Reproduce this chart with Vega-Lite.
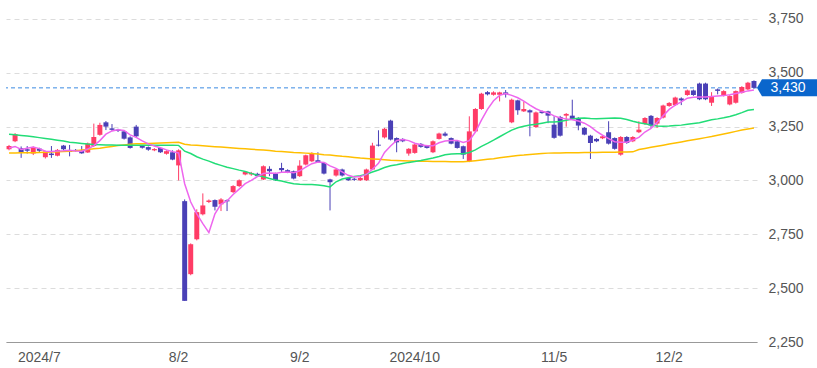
{
  "$schema": "https://vega.github.io/schema/vega-lite/v6.json",
  "width": 751,
  "height": 342,
  "autosize": "none",
  "padding": {"left": 6, "top": 0, "right": 60, "bottom": 26},
  "config": {"view": {"stroke": null}, "font": "Liberation Sans"},
  "datasets": {
    "candles": [
      {"date":"2024-06-24","o":3145,"h":3165,"l":3140,"c":3160,"ma5":3151,"ma25":3215,"ma75":3128},
      {"date":"2024-06-25","o":3182,"h":3220,"l":3178,"c":3215,"ma5":3158,"ma25":3212,"ma75":3128},
      {"date":"2024-06-26","o":3150,"h":3158,"l":3105,"c":3130,"ma5":3144,"ma25":3209,"ma75":3129},
      {"date":"2024-06-27","o":3145,"h":3160,"l":3125,"c":3138,"ma5":3150,"ma25":3206,"ma75":3129},
      {"date":"2024-06-28","o":3125,"h":3158,"l":3118,"c":3152,"ma5":3155,"ma25":3203,"ma75":3129},
      {"date":"2024-07-01","o":3148,"h":3152,"l":3132,"c":3138,"ma5":3148,"ma25":3199,"ma75":3130},
      {"date":"2024-07-02","o":3108,"h":3138,"l":3102,"c":3135,"ma5":3136,"ma25":3195,"ma75":3131},
      {"date":"2024-07-03","o":3125,"h":3160,"l":3105,"c":3118,"ma5":3134,"ma25":3191,"ma75":3132},
      {"date":"2024-07-04","o":3115,"h":3146,"l":3112,"c":3142,"ma5":3137,"ma25":3187,"ma75":3133},
      {"date":"2024-07-05","o":3162,"h":3165,"l":3140,"c":3145,"ma5":3138,"ma25":3183,"ma75":3134},
      {"date":"2024-07-08","o":3138,"h":3165,"l":3112,"c":3132,"ma5":3140,"ma25":3178,"ma75":3136},
      {"date":"2024-07-09","o":3142,"h":3146,"l":3134,"c":3138,"ma5":3137,"ma25":3175,"ma75":3138},
      {"date":"2024-07-10","o":3138,"h":3160,"l":3124,"c":3126,"ma5":3136,"ma25":3172,"ma75":3141},
      {"date":"2024-07-11","o":3130,"h":3176,"l":3128,"c":3172,"ma5":3146,"ma25":3169,"ma75":3144},
      {"date":"2024-07-12","o":3160,"h":3264,"l":3155,"c":3202,"ma5":3162,"ma25":3167,"ma75":3147},
      {"date":"2024-07-16","o":3212,"h":3268,"l":3208,"c":3258,"ma5":3185,"ma25":3166,"ma75":3150},
      {"date":"2024-07-17","o":3270,"h":3276,"l":3234,"c":3250,"ma5":3215,"ma25":3165,"ma75":3154},
      {"date":"2024-07-18","o":3242,"h":3262,"l":3230,"c":3235,"ma5":3230,"ma25":3165,"ma75":3158},
      {"date":"2024-07-19","o":3236,"h":3240,"l":3225,"c":3230,"ma5":3236,"ma25":3164,"ma75":3162},
      {"date":"2024-07-22","o":3228,"h":3232,"l":3190,"c":3194,"ma5":3232,"ma25":3164,"ma75":3165},
      {"date":"2024-07-23","o":3200,"h":3205,"l":3148,"c":3151,"ma5":3212,"ma25":3164,"ma75":3168},
      {"date":"2024-07-24","o":3250,"h":3258,"l":3200,"c":3205,"ma5":3200,"ma25":3164,"ma75":3170},
      {"date":"2024-07-25","o":3160,"h":3165,"l":3148,"c":3152,"ma5":3184,"ma25":3164,"ma75":3171},
      {"date":"2024-07-26","o":3155,"h":3158,"l":3138,"c":3143,"ma5":3170,"ma25":3164,"ma75":3172},
      {"date":"2024-07-29","o":3140,"h":3150,"l":3136,"c":3146,"ma5":3160,"ma25":3164,"ma75":3173},
      {"date":"2024-07-30","o":3151,"h":3155,"l":3128,"c":3131,"ma5":3152,"ma25":3164,"ma75":3174},
      {"date":"2024-07-31","o":3124,"h":3140,"l":3120,"c":3136,"ma5":3142,"ma25":3164,"ma75":3175},
      {"date":"2024-08-01","o":3131,"h":3140,"l":3094,"c":3097,"ma5":3134,"ma25":3164,"ma75":3176},
      {"date":"2024-08-02","o":3070,"h":3145,"l":3000,"c":3140,"ma5":3128,"ma25":3163,"ma75":3177},
      {"date":"2024-08-05","o":2904,"h":2912,"l":2441,"c":2441,"ma5":2985,"ma25":3136,"ma75":3168},
      {"date":"2024-08-06","o":2565,"h":2708,"l":2560,"c":2704,"ma5":2900,"ma25":3125,"ma75":3165},
      {"date":"2024-08-07","o":2727,"h":2866,"l":2722,"c":2853,"ma5":2845,"ma25":3110,"ma75":3163},
      {"date":"2024-08-08","o":2843,"h":2940,"l":2838,"c":2884,"ma5":2800,"ma25":3099,"ma75":3161},
      {"date":"2024-08-09","o":2900,"h":2912,"l":2895,"c":2907,"ma5":2758,"ma25":3090,"ma75":3159},
      {"date":"2024-08-13","o":2909,"h":2912,"l":2861,"c":2878,"ma5":2845,"ma25":3079,"ma75":3157},
      {"date":"2024-08-14","o":2889,"h":2918,"l":2858,"c":2912,"ma5":2890,"ma25":3070,"ma75":3155},
      {"date":"2024-08-15","o":2908,"h":2912,"l":2858,"c":2903,"ma5":2905,"ma25":3061,"ma75":3153},
      {"date":"2024-08-16","o":2946,"h":2978,"l":2942,"c":2974,"ma5":2935,"ma25":3055,"ma75":3151},
      {"date":"2024-08-19","o":2974,"h":3005,"l":2970,"c":3001,"ma5":2960,"ma25":3048,"ma75":3149},
      {"date":"2024-08-20","o":3028,"h":3044,"l":3024,"c":3040,"ma5":2985,"ma25":3042,"ma75":3147},
      {"date":"2024-08-21","o":3028,"h":3040,"l":3022,"c":3035,"ma5":3000,"ma25":3033,"ma75":3145},
      {"date":"2024-08-22","o":3031,"h":3036,"l":3016,"c":3020,"ma5":3018,"ma25":3024,"ma75":3143},
      {"date":"2024-08-23","o":3005,"h":3070,"l":3002,"c":3066,"ma5":3032,"ma25":3017,"ma75":3141},
      {"date":"2024-08-26","o":3054,"h":3066,"l":3020,"c":3043,"ma5":3035,"ma25":3009,"ma75":3139},
      {"date":"2024-08-27","o":3032,"h":3036,"l":2998,"c":3001,"ma5":3033,"ma25":3002,"ma75":3136},
      {"date":"2024-08-28","o":3058,"h":3082,"l":3036,"c":3048,"ma5":3038,"ma25":2998,"ma75":3134},
      {"date":"2024-08-29","o":3048,"h":3052,"l":3034,"c":3038,"ma5":3039,"ma25":2991,"ma75":3132},
      {"date":"2024-08-30","o":3043,"h":3046,"l":3005,"c":3009,"ma5":3036,"ma25":2985,"ma75":3130},
      {"date":"2024-09-02","o":3020,"h":3094,"l":3016,"c":3069,"ma5":3045,"ma25":2982,"ma75":3129},
      {"date":"2024-09-03","o":3074,"h":3120,"l":3070,"c":3117,"ma5":3062,"ma25":2981,"ma75":3127},
      {"date":"2024-09-04","o":3089,"h":3131,"l":3085,"c":3123,"ma5":3078,"ma25":2981,"ma75":3125},
      {"date":"2024-09-05","o":3094,"h":3131,"l":3082,"c":3085,"ma5":3086,"ma25":2979,"ma75":3123},
      {"date":"2024-09-06","o":3082,"h":3086,"l":3028,"c":3032,"ma5":3084,"ma25":2976,"ma75":3120},
      {"date":"2024-09-09","o":3005,"h":3008,"l":2861,"c":2992,"ma5":3068,"ma25":2970,"ma75":3118},
      {"date":"2024-09-10","o":3023,"h":3055,"l":3018,"c":3051,"ma5":3056,"ma25":2994,"ma75":3115},
      {"date":"2024-09-11","o":3051,"h":3055,"l":3018,"c":3023,"ma5":3040,"ma25":3007,"ma75":3112},
      {"date":"2024-09-12","o":3012,"h":3016,"l":2998,"c":3001,"ma5":3024,"ma25":3013,"ma75":3110},
      {"date":"2024-09-13","o":3008,"h":3012,"l":2998,"c":3003,"ma5":3016,"ma25":3018,"ma75":3107},
      {"date":"2024-09-17","o":3001,"h":3016,"l":2998,"c":3012,"ma5":3018,"ma25":3022,"ma75":3104},
      {"date":"2024-09-18","o":3001,"h":3055,"l":2998,"c":3051,"ma5":3028,"ma25":3029,"ma75":3102},
      {"date":"2024-09-19","o":3051,"h":3175,"l":3048,"c":3162,"ma5":3052,"ma25":3039,"ma75":3100},
      {"date":"2024-09-20","o":3166,"h":3233,"l":3158,"c":3162,"ma5":3080,"ma25":3049,"ma75":3098},
      {"date":"2024-09-24","o":3200,"h":3244,"l":3195,"c":3240,"ma5":3130,"ma25":3060,"ma75":3096},
      {"date":"2024-09-25","o":3278,"h":3282,"l":3186,"c":3190,"ma5":3160,"ma25":3068,"ma75":3094},
      {"date":"2024-09-26","o":3197,"h":3200,"l":3131,"c":3177,"ma5":3186,"ma25":3073,"ma75":3093},
      {"date":"2024-09-27","o":3193,"h":3196,"l":3178,"c":3182,"ma5":3190,"ma25":3079,"ma75":3092},
      {"date":"2024-09-30","o":3125,"h":3150,"l":3115,"c":3147,"ma5":3185,"ma25":3084,"ma75":3091},
      {"date":"2024-10-01","o":3128,"h":3170,"l":3124,"c":3167,"ma5":3173,"ma25":3088,"ma75":3090},
      {"date":"2024-10-02","o":3170,"h":3174,"l":3152,"c":3156,"ma5":3166,"ma25":3093,"ma75":3089},
      {"date":"2024-10-03","o":3162,"h":3165,"l":3148,"c":3151,"ma5":3161,"ma25":3099,"ma75":3089},
      {"date":"2024-10-04","o":3131,"h":3186,"l":3127,"c":3182,"ma5":3161,"ma25":3104,"ma75":3088},
      {"date":"2024-10-07","o":3193,"h":3222,"l":3190,"c":3218,"ma5":3175,"ma25":3111,"ma75":3088},
      {"date":"2024-10-08","o":3218,"h":3226,"l":3204,"c":3208,"ma5":3183,"ma25":3119,"ma75":3088},
      {"date":"2024-10-09","o":3197,"h":3200,"l":3168,"c":3171,"ma5":3186,"ma25":3123,"ma75":3087},
      {"date":"2024-10-10","o":3182,"h":3186,"l":3148,"c":3151,"ma5":3186,"ma25":3124,"ma75":3087},
      {"date":"2024-10-11","o":3159,"h":3162,"l":3100,"c":3120,"ma5":3176,"ma25":3124,"ma75":3087},
      {"date":"2024-10-15","o":3089,"h":3298,"l":3085,"c":3228,"ma5":3185,"ma25":3130,"ma75":3089},
      {"date":"2024-10-16","o":3228,"h":3336,"l":3224,"c":3332,"ma5":3225,"ma25":3142,"ma75":3092},
      {"date":"2024-10-17","o":3332,"h":3407,"l":3328,"c":3403,"ma5":3280,"ma25":3158,"ma75":3095},
      {"date":"2024-10-18","o":3410,"h":3415,"l":3395,"c":3400,"ma5":3330,"ma25":3172,"ma75":3098},
      {"date":"2024-10-21","o":3398,"h":3414,"l":3394,"c":3409,"ma5":3370,"ma25":3187,"ma75":3101},
      {"date":"2024-10-22","o":3398,"h":3412,"l":3367,"c":3409,"ma5":3395,"ma25":3203,"ma75":3105},
      {"date":"2024-10-23","o":3409,"h":3420,"l":3385,"c":3400,"ma5":3404,"ma25":3219,"ma75":3109},
      {"date":"2024-10-24","o":3270,"h":3380,"l":3266,"c":3375,"ma5":3395,"ma25":3234,"ma75":3113},
      {"date":"2024-10-25","o":3372,"h":3375,"l":3305,"c":3326,"ma5":3384,"ma25":3245,"ma75":3116},
      {"date":"2024-10-28","o":3321,"h":3367,"l":3318,"c":3332,"ma5":3368,"ma25":3252,"ma75":3118},
      {"date":"2024-10-29","o":3326,"h":3330,"l":3205,"c":3316,"ma5":3350,"ma25":3258,"ma75":3121},
      {"date":"2024-10-30","o":3248,"h":3320,"l":3244,"c":3316,"ma5":3333,"ma25":3261,"ma75":3123},
      {"date":"2024-10-31","o":3321,"h":3325,"l":3310,"c":3313,"ma5":3321,"ma25":3266,"ma75":3125},
      {"date":"2024-11-01","o":3321,"h":3324,"l":3266,"c":3301,"ma5":3314,"ma25":3271,"ma75":3127},
      {"date":"2024-11-05","o":3259,"h":3298,"l":3194,"c":3198,"ma5":3300,"ma25":3272,"ma75":3128},
      {"date":"2024-11-06","o":3295,"h":3300,"l":3204,"c":3208,"ma5":3290,"ma25":3274,"ma75":3128},
      {"date":"2024-11-07","o":3301,"h":3313,"l":3250,"c":3309,"ma5":3286,"ma25":3280,"ma75":3129},
      {"date":"2024-11-08","o":3301,"h":3375,"l":3282,"c":3286,"ma5":3282,"ma25":3285,"ma75":3129},
      {"date":"2024-11-11","o":3290,"h":3294,"l":3233,"c":3255,"ma5":3276,"ma25":3289,"ma75":3129},
      {"date":"2024-11-12","o":3244,"h":3248,"l":3210,"c":3213,"ma5":3266,"ma25":3290,"ma75":3130},
      {"date":"2024-11-13","o":3208,"h":3212,"l":3100,"c":3174,"ma5":3250,"ma25":3288,"ma75":3130},
      {"date":"2024-11-14","o":3193,"h":3196,"l":3178,"c":3182,"ma5":3228,"ma25":3287,"ma75":3130},
      {"date":"2024-11-15","o":3196,"h":3209,"l":3192,"c":3205,"ma5":3210,"ma25":3288,"ma75":3131},
      {"date":"2024-11-18","o":3224,"h":3275,"l":3167,"c":3171,"ma5":3194,"ma25":3289,"ma75":3131},
      {"date":"2024-11-19","o":3197,"h":3200,"l":3143,"c":3147,"ma5":3180,"ma25":3290,"ma75":3131},
      {"date":"2024-11-20","o":3120,"h":3206,"l":3115,"c":3202,"ma5":3178,"ma25":3289,"ma75":3132},
      {"date":"2024-11-21","o":3202,"h":3206,"l":3170,"c":3174,"ma5":3178,"ma25":3283,"ma75":3132},
      {"date":"2024-11-22","o":3182,"h":3206,"l":3178,"c":3202,"ma5":3188,"ma25":3275,"ma75":3133},
      {"date":"2024-11-25","o":3224,"h":3275,"l":3220,"c":3236,"ma5":3200,"ma25":3268,"ma75":3144},
      {"date":"2024-11-26","o":3262,"h":3294,"l":3258,"c":3290,"ma5":3225,"ma25":3263,"ma75":3149},
      {"date":"2024-11-27","o":3300,"h":3304,"l":3244,"c":3255,"ma5":3242,"ma25":3257,"ma75":3154},
      {"date":"2024-11-28","o":3264,"h":3294,"l":3244,"c":3290,"ma5":3270,"ma25":3253,"ma75":3159},
      {"date":"2024-11-29","o":3292,"h":3352,"l":3288,"c":3348,"ma5":3300,"ma25":3252,"ma75":3164},
      {"date":"2024-12-02","o":3346,"h":3364,"l":3342,"c":3360,"ma5":3330,"ma25":3253,"ma75":3169},
      {"date":"2024-12-03","o":3350,"h":3389,"l":3346,"c":3385,"ma5":3350,"ma25":3255,"ma75":3174},
      {"date":"2024-12-04","o":3381,"h":3386,"l":3350,"c":3372,"ma5":3365,"ma25":3257,"ma75":3179},
      {"date":"2024-12-05","o":3397,"h":3422,"l":3393,"c":3418,"ma5":3382,"ma25":3261,"ma75":3184},
      {"date":"2024-12-06","o":3418,"h":3422,"l":3393,"c":3397,"ma5":3386,"ma25":3265,"ma75":3189},
      {"date":"2024-12-09","o":3450,"h":3454,"l":3373,"c":3377,"ma5":3388,"ma25":3268,"ma75":3194},
      {"date":"2024-12-10","o":3450,"h":3454,"l":3373,"c":3377,"ma5":3388,"ma25":3275,"ma75":3199},
      {"date":"2024-12-11","o":3361,"h":3410,"l":3346,"c":3392,"ma5":3390,"ma25":3282,"ma75":3204},
      {"date":"2024-12-12","o":3423,"h":3427,"l":3400,"c":3416,"ma5":3392,"ma25":3286,"ma75":3210},
      {"date":"2024-12-13","o":3395,"h":3419,"l":3390,"c":3415,"ma5":3394,"ma25":3291,"ma75":3216},
      {"date":"2024-12-16","o":3353,"h":3396,"l":3349,"c":3392,"ma5":3398,"ma25":3297,"ma75":3222},
      {"date":"2024-12-17","o":3361,"h":3418,"l":3357,"c":3415,"ma5":3404,"ma25":3305,"ma75":3228},
      {"date":"2024-12-18","o":3407,"h":3438,"l":3403,"c":3434,"ma5":3410,"ma25":3315,"ma75":3234},
      {"date":"2024-12-19","o":3423,"h":3458,"l":3419,"c":3454,"ma5":3416,"ma25":3326,"ma75":3239},
      {"date":"2024-12-20","o":3462,"h":3465,"l":3426,"c":3430,"ma5":3420,"ma25":3330,"ma75":3244}
    ],
    "last": [{"date":"2024-12-20","price":3430,"label":"3,430"}]
  },
  "data": {"name": "candles"},
  "encoding": {
    "x": {
      "field": "date", "type": "ordinal",
      "scale": {"type": "band", "paddingInner": 0, "paddingOuter": 0},
      "axis": {
        "title": null,
        "values": ["2024-07-01","2024-08-02","2024-09-02","2024-10-01","2024-11-05","2024-12-02"],
        "labelExpr": "datum.value == '2024-07-01' ? '2024/7' : datum.value == '2024-08-02' ? '8/2' : datum.value == '2024-09-02' ? '9/2' : datum.value == '2024-10-01' ? '2024/10' : datum.value == '2024-11-05' ? '11/5' : '12/2'",
        "labelAngle": 0,
        "ticks": false,
        "grid": false,
        "domainColor": "#999999",
        "labelPadding": 8,
        "labelFontSize": 14,
        "labelColor": "#555555",
        "labelFont": "Liberation Sans"
      }
    }
  },
  "layer": [
    {
      "mark": {"type": "rule", "strokeWidth": 1},
      "encoding": {
        "y": {
          "field": "l", "type": "quantitative",
          "scale": {"domain": [2250, 3838], "nice": false, "zero": false},
          "axis": {
            "orient": "right",
            "title": null,
            "values": [2250, 2500, 2750, 3000, 3250, 3500, 3750],
            "format": ",.0f",
            "grid": true,
            "gridDash": [5, 4],
            "gridColor": "#dcdcdc",
            "domain": false,
            "ticks": false,
            "labelPadding": 11,
            "labelFontSize": 14,
            "labelColor": "#555555",
            "labelFont": "Liberation Sans"
          }
        },
        "y2": {"field": "h"},
        "color": {"condition": {"test": "datum.c >= datum.o", "value": "#ff3c66"}, "value": "#4a40b6"}
      }
    },
    {
      "data": {"name": "last"},
      "mark": {"type": "rule", "strokeDash": [4, 3], "strokeWidth": 1, "color": "#3a8ae2"},
      "encoding": {
        "x": null,
        "y": {"field": "price", "type": "quantitative", "scale": {"domain": [2250, 3838], "nice": false, "zero": false}}
      }
    },
    {
      "mark": {"type": "bar", "width": {"band": 0.82}},
      "encoding": {
        "y": {"field": "o", "type": "quantitative", "scale": {"domain": [2250, 3838], "nice": false, "zero": false}},
        "y2": {"field": "c"},
        "color": {"condition": {"test": "datum.c >= datum.o", "value": "#ff3c66"}, "value": "#4a40b6"}
      }
    },
    {
      "mark": {"type": "line", "color": "#ffbf00", "strokeWidth": 1.5},
      "encoding": {"y": {"field": "ma75", "type": "quantitative", "scale": {"domain": [2250, 3838], "nice": false, "zero": false}}}
    },
    {
      "mark": {"type": "line", "color": "#22dd77", "strokeWidth": 1.5},
      "encoding": {"y": {"field": "ma25", "type": "quantitative", "scale": {"domain": [2250, 3838], "nice": false, "zero": false}}}
    },
    {
      "mark": {"type": "line", "color": "#ee66ee", "strokeWidth": 1.5},
      "encoding": {"y": {"field": "ma5", "type": "quantitative", "scale": {"domain": [2250, 3838], "nice": false, "zero": false}}}
    },
    {
      "data": {"name": "last"},
      "mark": {"type": "point", "shape": "M3,0L8,-8.5L64,-8.5L64,8.5L8,8.5Z", "size": 4, "filled": true, "color": "#0a66cc", "opacity": 1},
      "encoding": {
        "y": {"field": "price", "type": "quantitative", "scale": {"domain": [2250, 3838], "nice": false, "zero": false}}
      }
    },
    {
      "data": {"name": "last"},
      "mark": {"type": "text", "dx": 34, "align": "center", "baseline": "middle", "fontSize": 14, "color": "#ffffff", "font": "Liberation Sans"},
      "encoding": {
        "y": {"field": "price", "type": "quantitative", "scale": {"domain": [2250, 3838], "nice": false, "zero": false}},
        "text": {"field": "label"}
      }
    }
  ]
}
